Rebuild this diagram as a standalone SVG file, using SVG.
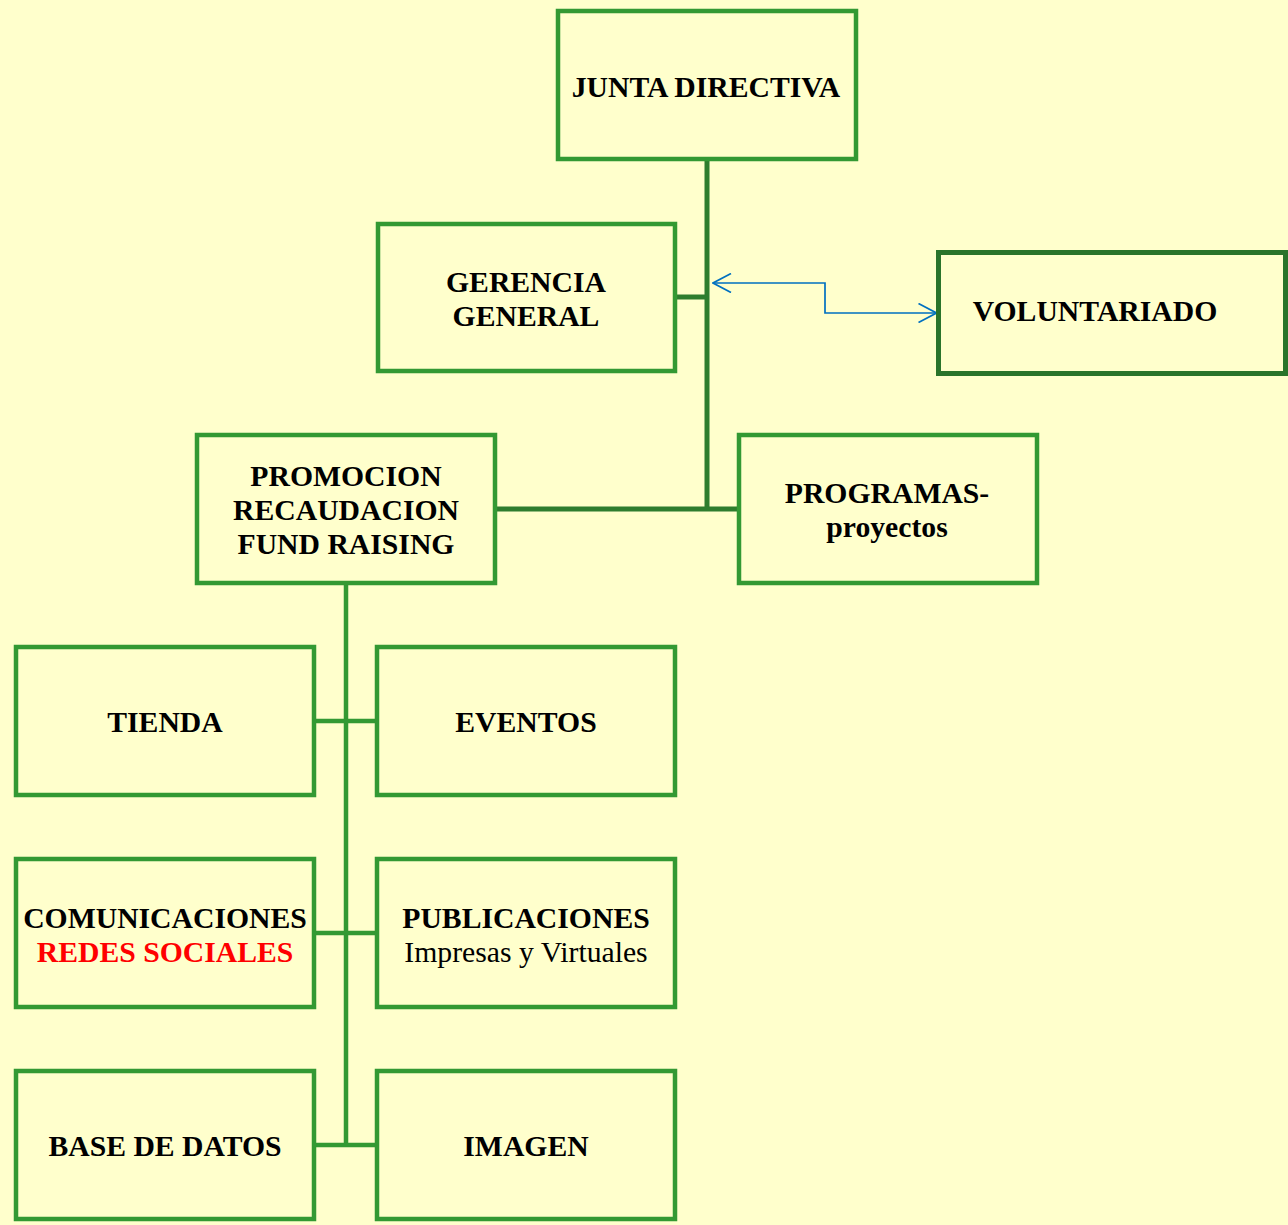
<svg xmlns="http://www.w3.org/2000/svg" width="1288" height="1225" viewBox="0 0 1288 1225">
<defs>
<style>
.box{fill:#FFFFCC;stroke:#339933;stroke-width:4.5}
.dark{stroke:#2A742A;stroke-width:5}
.t{font-family:"Liberation Serif","Times New Roman",serif;font-weight:bold;font-size:29.7px;fill:#000;text-anchor:middle}
.n{font-weight:normal}
.red{fill:#FF0000}
.ln{stroke:#339933;stroke-width:4.5;fill:none}
.trunk{stroke:#2E7D2E;stroke-width:5;fill:none}
.blue{stroke:#0070C0;stroke-width:1.7;fill:none}
</style>
<marker id="oa" viewBox="0 0 20 20" refX="19" refY="10" markerWidth="20" markerHeight="20" markerUnits="userSpaceOnUse" orient="auto-start-reverse">
<path d="M1,0.5 L19,10 L1,19.5" fill="none" stroke="#0070C0" stroke-width="1.7"/>
</marker>
</defs>
<rect width="1288" height="1225" fill="#FFFFCC"/>
<g id="connectors">
<path class="trunk" d="M707,160 V509"/>
<path class="trunk" d="M677,297 H707"/>
<path class="trunk" d="M497,509 H737"/>
<path class="ln" d="M346,585 V1145"/>
<path class="ln" d="M316,721 H375 M316,933 H375 M316,1145 H375"/>
<path class="blue" d="M713,283 H825 V313 H936.5" marker-start="url(#oa)" marker-end="url(#oa)"/>
</g>
<g id="junta"><rect class="box" x="558" y="11" width="298" height="148"/><text class="t" x="706" y="97">JUNTA DIRECTIVA</text></g>
<g id="gerencia"><rect class="box" x="378" y="224" width="297" height="147"/><text class="t" x="526" y="292">GERENCIA</text><text class="t" x="526" y="326">GENERAL</text></g>
<g id="voluntariado"><rect class="box dark" x="938.5" y="252.5" width="347" height="121"/><text class="t" x="1095" y="321">VOLUNTARIADO</text></g>
<g id="promocion"><rect class="box" x="197" y="435" width="298" height="148"/><text class="t" x="346" y="486">PROMOCION</text><text class="t" x="346" y="520">RECAUDACION</text><text class="t" x="346" y="554">FUND RAISING</text></g>
<g id="programas"><rect class="box" x="739" y="435" width="298" height="148"/><text class="t" x="887" y="503">PROGRAMAS-</text><text class="t" x="887" y="537">proyectos</text></g>
<g id="tienda"><rect class="box" x="16" y="647" width="298" height="148"/><text class="t" x="165" y="732">TIENDA</text></g>
<g id="eventos"><rect class="box" x="377" y="647" width="298" height="148"/><text class="t" x="526" y="732">EVENTOS</text></g>
<g id="comunicaciones"><rect class="box" x="16" y="859" width="298" height="148"/><text class="t" x="165" y="928">COMUNICACIONES</text><text class="t red" x="165" y="962">REDES SOCIALES</text></g>
<g id="publicaciones"><rect class="box" x="377" y="859" width="298" height="148"/><text class="t" x="526" y="928">PUBLICACIONES</text><text class="t n" x="526" y="962">Impresas y Virtuales</text></g>
<g id="base"><rect class="box" x="16" y="1071" width="298" height="148"/><text class="t" x="165" y="1156">BASE DE DATOS</text></g>
<g id="imagen"><rect class="box" x="377" y="1071" width="298" height="148"/><text class="t" x="526" y="1156">IMAGEN</text></g>
</svg>
